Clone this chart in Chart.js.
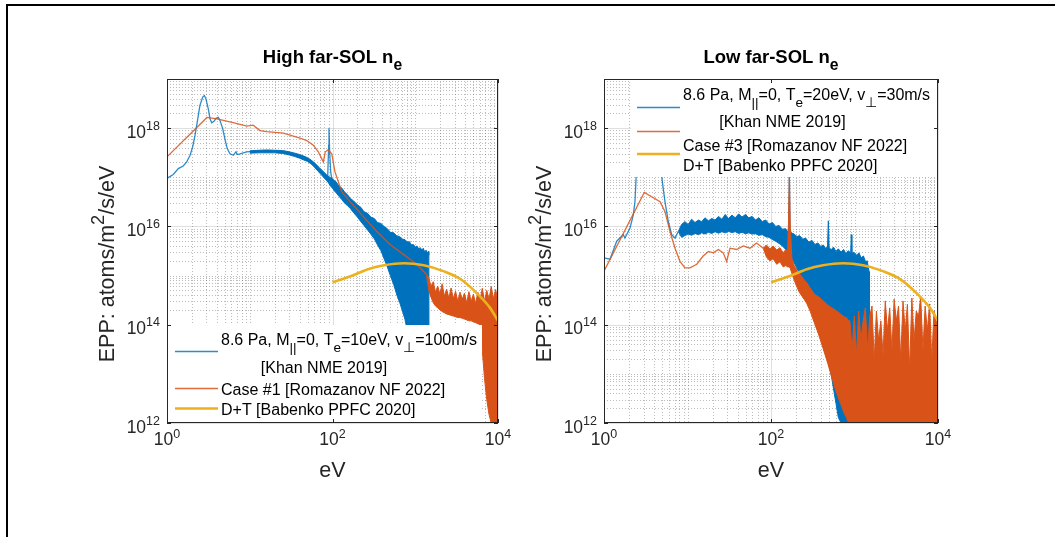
<!DOCTYPE html>
<html><head><meta charset="utf-8">
<script src="https://cdn.jsdelivr.net/npm/chart.js@4.4.1/dist/chart.umd.min.js"></script>
<style>
html,body{margin:0;padding:0;background:#fff}
#wrap{position:relative;width:1055px;height:537px;overflow:hidden;background:#fff}
#frame{position:absolute;left:6px;top:4px;width:1200px;height:700px;border-left:2px solid #000;border-top:2px solid #000;box-sizing:border-box}
canvas{position:absolute;left:0;top:0}
</style></head><body>
<div id="wrap"><div id="frame"></div>
<canvas id="cHigh" width="1055" height="537"></canvas>
<canvas id="cLow" width="1055" height="537"></canvas>
</div>
<script>
// ---------------- tick labels ----------------
const xTickExps = [0, 2, 4];
const yTickExps = [12, 14, 16, 18];

// ---------------- D+T [Babenko PPFC 2020] (both panels) ----------------
const babenkoE = [100, 169, 268, 420, 728, 1265, 2190, 3510, 5610, 8020, 10000];
const babenkoV = [7.3e14, 9.8e14, 1.35e15, 1.62e15, 1.78e15, 1.62e15, 1.23e15, 8.5e14, 4.3e14, 2.2e14, 1.2e14];

// ---------------- High far-SOL : Khan (blue) ----------------
const khanHighE = [1.0, 1.19, 1.37, 1.57, 1.73, 1.90, 2.04, 2.18, 2.32, 2.5, 2.7, 2.83, 2.96, 3.16, 3.31, 3.47, 3.7, 3.91, 4.17, 4.37, 4.71, 5.02, 5.36, 5.77, 6.33, 6.82, 7.07, 7.62, 9.18, 12.1, 16, 21.2, 27.9, 36.9, 48.8, 58.6, 70.6, 81.1, 87.4, 89.9, 90.7, 92.4, 95, 100, 112];
const khanHighV = [9.5e16, 1.14e17, 1.5e17, 1.7e17, 2.05e17, 2.8e17, 4.1e17, 7.1e17, 1.32e18, 2.9e18, 4.3e18, 4.6e18, 3.9e18, 2.45e18, 1.55e18, 1.28e18, 1.38e18, 1.58e18, 1.66e18, 1.43e18, 9.8e17, 5.9e17, 3.8e17, 3.0e17, 2.8e17, 3.3e17, 2.9e17, 3.0e17, 3.3e17, 3.4e17, 3.4e17, 3.4e17, 3.2e17, 2.8e17, 2.4e17, 1.9e17, 1.4e17, 1.1e17, 9.5e16, 4.5e17, 1.0e18, 3.3e17, 1.3e17, 7.5e16, 5.9e16];
const khanHighBandE = [10, 13, 16, 20, 25, 30, 35, 40, 45, 50, 55, 60, 65, 70, 75, 80, 85, 88, 95, 100, 105, 110, 120, 130, 140, 150, 165, 180, 200, 220, 240, 265, 290, 320, 350, 385, 420, 460, 500, 550, 600, 650, 700, 750, 800, 850, 900, 950, 1000, 1050, 1100, 1150, 1200, 1250, 1300, 1350, 1400, 1440, 1460, 1470];
const khanHighBandHi = [3.45e17, 3.55e17, 3.6e17, 3.55e17, 3.5e17, 3.3e17, 3.1e17, 2.9e17, 2.7e17, 2.5e17, 2.25e17, 2.0e17, 1.75e17, 1.55e17, 1.38e17, 1.24e17, 1.12e17, 1.06e17, 9.8e16, 9.3e16, 8.6e16, 8.2e16, 6.6e16, 6.0e16, 5.0e16, 4.5e16, 3.7e16, 3.3e16, 2.75e16, 2.45e16, 2.0e16, 1.85e16, 1.55e16, 1.45e16, 1.2e16, 1.15e16, 1.0e16, 9.0e15, 7.6e15, 7.4e15, 6.4e15, 6.2e15, 5.5e15, 5.4e15, 4.8e15, 4.9e15, 4.2e15, 4.3e15, 3.8e15, 4.0e15, 3.5e15, 3.7e15, 3.3e15, 3.6e15, 3.0e15, 3.3e15, 2.9e15, 3.1e15, 2.6e15, 1e12];
const khanHighBandLo = [3.1e17, 3.15e17, 3.15e17, 3.15e17, 3.05e17, 2.85e17, 2.65e17, 2.45e17, 2.25e17, 2.1e17, 1.88e17, 1.63e17, 1.4e17, 1.22e17, 1.08e17, 9.6e16, 8.5e16, 8.0e16, 6.6e16, 6.0e16, 5.3e16, 4.9e16, 4.1e16, 3.5e16, 3.0e16, 2.7e16, 2.3e16, 1.9e16, 1.55e16, 1.25e16, 1.05e16, 8.5e15, 7.0e15, 5.6e15, 4.2e15, 3.2e15, 2.2e15, 1.5e15, 1.0e15, 6.5e14, 4.0e14, 2.8e14, 1.9e14, 1.3e14, 7.6e13, 5e13, 3e13, 1.5e13, 7e12, 4e12, 2e12, 1e12, 1e12, 1e12, 1e12, 1e12, 1e12, 1e12, 1e12, 1e12];

// ---------------- High far-SOL : Romazanov case #1 (orange) ----------------
const romHighE = [1, 3.04, 4.0, 6.3, 9.2, 11, 13.3, 16, 25.5, 40.5, 48.8, 58.6, 67.4, 74, 77.5, 81.8, 88.8, 98, 107, 129, 163, 235, 343, 495, 719, 1040, 1370];
const romHighV = [2.6e17, 1.65e18, 1.55e18, 1.3e18, 1.1e18, 1.15e18, 8.9e17, 8.5e17, 7.9e17, 6.3e17, 5.6e17, 4.5e17, 3.3e17, 2.4e17, 2.05e17, 3.3e17, 3.6e17, 3.0e17, 1.3e17, 5.1e16, 3.2e16, 1.6e16, 7.9e15, 4.3e15, 2.7e15, 1.7e15, 1.05e15];
const romHighBandE = [1370, 1458, 1551, 1650, 1756, 1868, 1988, 2115, 2250, 2394, 2548, 2711, 2884, 3069, 3265, 3474, 3697, 3933, 4185, 4453, 4738, 5041, 5364, 5707, 6072, 6461, 6874, 7314, 7782, 8280, 8810, 9374, 10000];
const romHighBandHi = [1.05e15, 9.0e14, 6.0e14, 7.5e14, 4.6e14, 6.1e14, 4.2e14, 6.8e14, 3.8e14, 5.3e14, 3.5e14, 5.6e14, 3.4e14, 4.8e14, 3.0e14, 4.6e14, 3.3e14, 4.4e14, 2.8e14, 4.7e14, 3.0e14, 4.2e14, 2.7e14, 4.6e14, 3.2e14, 5.5e14, 3.0e14, 5.0e14, 3.3e14, 6.0e14, 3.4e14, 5.2e14, 3.0e14];
const romHighBandLo = [1.0e15, 5.0e14, 3.6e14, 2.8e14, 2.4e14, 2.2e14, 2.0e14, 1.85e14, 1.75e14, 1.65e14, 1.6e14, 1.55e14, 1.5e14, 1.45e14, 1.4e14, 1.4e14, 1.35e14, 1.3e14, 1.25e14, 1.2e14, 1.2e14, 1.15e14, 1.1e14, 1.05e14, 1.0e14, 3e13, 8e12, 3e12, 1.5e12, 1e12, 1e12, 1e12, 1e12];

// ---------------- Low far-SOL : Khan (blue) ----------------
const khanLowE = [1.0, 1.18, 1.42, 1.70, 1.78, 2.05, 2.24, 2.35, 2.42, 2.6, 2.85, 3.1, 3.4, 3.8, 4.3, 4.8, 4.95, 5.37, 5.89, 6.47, 7.08, 7.77];
const khanLowV = [2.3e15, 2.15e15, 5.0e15, 6.8e15, 5.8e15, 9.3e15, 1.7e16, 3.2e16, 9.3e16, 6e17, 4e18, 3e18, 1.3e18, 1.4e18, 8e17, 2.5e17, 9.3e16, 3.2e16, 1.26e16, 6.8e15, 5.8e15, 7.9e15];
const khanLowBandE = [7.77, 8.5, 9.3, 10.2, 11.2, 12.3, 13.5, 14.8, 16.2, 17.8, 19.5, 21.4, 23.5, 25.8, 28.3, 31, 34, 37.3, 41, 45, 49.4, 54.2, 59.5, 65.3, 71.7, 78.7, 86.4, 94.8, 104, 114, 125, 137, 150, 158, 163, 166, 169, 175, 190, 203, 220, 240, 260, 283, 310, 335, 365, 395, 423, 450, 475, 486, 497, 530, 560, 600, 640, 690, 740, 790, 840, 900, 915, 930, 980, 1062, 1130, 1200, 1280, 1360, 1420, 1463, 1500, 1510];
const khanLowBandHi = [7.9e15, 1.1e16, 1.25e16, 1.1e16, 1.4e16, 1.2e16, 1.35e16, 1.25e16, 1.5e16, 1.3e16, 1.45e16, 1.35e16, 1.6e16, 1.4e16, 1.75e16, 1.45e16, 1.7e16, 1.5e16, 1.8e16, 1.55e16, 1.75e16, 1.5e16, 1.6e16, 1.35e16, 1.5e16, 1.25e16, 1.35e16, 1.12e16, 1.2e16, 1.0e16, 1.05e16, 8.8e15, 9.0e15, 7.8e15, 8.5e15, 2.5e17, 9.0e15, 7.4e15, 7.0e15, 6.2e15, 6.5e15, 5.5e15, 5.8e15, 4.8e15, 5.2e15, 4.3e15, 4.6e15, 3.9e15, 4.2e15, 3.6e15, 3.8e15, 1.3e16, 3.6e15, 3.4e15, 3.8e15, 3.1e15, 3.5e15, 3.0e15, 3.4e15, 2.8e15, 3.2e15, 2.9e15, 6.8e15, 2.8e15, 3.0e15, 2.6e15, 2.9e15, 2.3e15, 2.5e15, 1.9e15, 2.0e15, 1.44e15, 1.2e15, 1e12];
const khanLowBandLo = [7.9e15, 6.0e15, 6.5e15, 7.0e15, 6.6e15, 7.2e15, 6.8e15, 7.4e15, 7.0e15, 7.6e15, 7.2e15, 7.8e15, 7.3e15, 7.8e15, 7.4e15, 7.9e15, 7.5e15, 7.8e15, 7.2e15, 7.6e15, 7.1e15, 7.4e15, 7.0e15, 7.1e15, 6.6e15, 6.8e15, 6.2e15, 6.0e15, 5.4e15, 5.0e15, 4.5e15, 4.0e15, 3.4e15, 3.0e15, 2.9e15, 2.8e15, 2.6e15, 2.4e15, 1.8e15, 1.44e15, 1.1e15, 8.0e14, 6.0e14, 4.5e14, 3.0e14, 2.1e14, 1.4e14, 9.5e13, 6.0e13, 3.5e13, 2.2e13, 1.8e13, 1.5e13, 9e12, 5e12, 2.5e12, 1.3e12, 1e12, 1e12, 1e12, 1e12, 1e12, 1e12, 1e12, 1e12, 1e12, 1e12, 1e12, 1e12, 1e12, 1e12, 1e12, 1e12, 1e12];

// ---------------- Low far-SOL : Romazanov case #3 (orange) ----------------
const romLowE = [1, 3.04, 4.69, 5.38, 6.17, 7.09, 8.13, 9.3, 10.7, 12.9, 15.4, 17.8, 20.4, 23.4, 26.8, 29.4, 32.3, 38.8, 46.6, 56, 67, 81];
const romLowV = [1.23e15, 4.9e16, 3.2e16, 2.0e16, 7.9e15, 3.6e15, 1.95e15, 1.44e15, 1.44e15, 1.7e15, 2.5e15, 3.1e15, 2.9e15, 3.4e15, 2.9e15, 1.95e15, 3.6e15, 3.4e15, 4.0e15, 3.6e15, 4.6e15, 3.6e15];
const romLowBandE = [81, 88, 97, 106, 117, 128, 140, 150, 158, 162, 166, 170, 178, 190, 203, 218, 235, 252, 268, 294, 330, 370, 423, 480, 540, 612, 680, 750, 800, 850, 880, 935, 994, 1057, 1123, 1194, 1269, 1349, 1434, 1524, 1620, 1722, 1830, 1945, 2068, 2198, 2336, 2483, 2640, 2806, 2983, 3170, 3370, 3582, 3808, 4048, 4303, 4574, 4862, 5168, 5494, 5840, 6207, 6598, 7014, 7455, 7925, 8424, 8955, 9519, 10000];
const romLowBandHi = [3.6e15, 4.2e15, 3.5e15, 4.0e15, 3.3e15, 3.7e15, 2.9e15, 3.4e15, 3.0e15, 1.26e16, 1.2e17, 1.0e16, 2.2e15, 1.6e15, 1.3e15, 1.1e15, 9.5e14, 8.0e14, 7.2e14, 5.6e14, 4.2e14, 3.7e14, 3.05e14, 2.5e14, 2.2e14, 1.9e14, 1.66e14, 1.45e14, 1.4e14, 1.2e14, 1.2e14, 3e13, 1.5e14, 2.4e13, 1.9e14, 4.8e13, 1.2e14, 2.2e14, 3e13, 1.5e14, 2.4e14, 1.9e13, 1.9e14, 4.8e13, 1.2e14, 2.4e13, 3.05e14, 7.6e13, 2.2e14, 3e13, 3.3e14, 1.2e14, 2.4e14, 1.9e13, 3.05e14, 7.6e13, 2.6e14, 1.2e13, 3.5e14, 4.8e13, 1.9e14, 1.5e14, 3.7e14, 3e13, 2.4e14, 7.6e13, 2.65e14, 1.9e13, 1.9e14, 1.2e14, 9.5e13];
const romLowBandLo = [3.6e15, 2.4e15, 2.0e15, 2.2e15, 1.7e15, 1.9e15, 1.5e15, 1.6e15, 1.5e15, 1.5e15, 1.5e15, 1.4e15, 1.1e15, 8.0e14, 6.0e14, 4.6e14, 3.8e14, 3.2e14, 2.7e14, 1.9e14, 1.1e14, 6.5e13, 3.2e13, 1.6e13, 8e12, 4e12, 2.5e12, 1.6e12, 1.3e12, 1e12, 1e12, 1e12, 1e12, 1e12, 1e12, 1e12, 1e12, 1e12, 1e12, 1e12, 1e12, 1e12, 1e12, 1e12, 1e12, 1e12, 1e12, 1e12, 1e12, 1e12, 1e12, 1e12, 1e12, 1e12, 1e12, 1e12, 1e12, 1e12, 1e12, 1e12, 1e12, 1e12, 1e12, 1e12, 1e12, 1e12, 1e12, 1e12, 1e12, 1e12, 1e12];

// ---------------- style ----------------
const BLUE = '#0072BD', ORANGE = '#D95319', YELLOW = '#EDB120';
const BLUE_THIN = 'rgba(0,114,189,0.82)', ORANGE_THIN = 'rgba(217,83,25,0.85)';
const FONT = '"Liberation Sans", Arial, Helvetica, sans-serif';
const TICK = 17.5, SUPS = 12.5, LEG = 16, TITLE = 18.5, LABEL = 21.5;
function font(sz, bold) { return (bold ? 'bold ' : '') + sz + 'px ' + FONT; }

function pts(E, V) { return E.map((e, i) => ({x: e, y: V[i]})); }
function line(E, V, color, width, order, extra) {
  return Object.assign({data: pts(E, V), borderColor: color, borderWidth: width, pointRadius: 0, fill: false, tension: 0, order}, extra || {});
}
function band(E, U, L, color, order) {
  return [
    {data: pts(E, U), borderColor: color, backgroundColor: color, borderWidth: 1, pointRadius: 0, fill: '+1', tension: 0, order},
    {data: pts(E, L), borderColor: color, borderWidth: 1, pointRadius: 0, fill: false, tension: 0, order}
  ];
}

// rich text: segs = [[text, mode]] mode 0 normal, 1 sub, 2 sup
function segFont(size, mode, bold) { return font(mode ? size * 0.85 : size, bold); }
function segsWidth(ctx, segs, size, bold) {
  let w = 0;
  for (const [t, m] of segs) { ctx.font = segFont(size, m, bold); w += ctx.measureText(t).width; }
  return w;
}
function drawSegs(ctx, segs, x, y, size, bold, subDy) {
  let cx = x;
  for (const [t, m] of segs) {
    ctx.font = segFont(size, m, bold);
    const dy = m === 1 ? subDy : (m === 2 ? -size * 0.45 : 0);
    ctx.fillText(t, cx, y + dy);
    cx += ctx.measureText(t).width;
  }
}

function makePlugin(spec) {
  return {
    id: 'matlab' + spec.id,
    beforeDatasetsDraw(chart) {
      const {ctx, chartArea: a, scales: {x, y}} = chart;
      ctx.save();
      ctx.lineWidth = 1;
      ctx.strokeStyle = 'rgba(38,38,38,0.30)';
      ctx.setLineDash([1, 2]);
      for (let e = 0; e < 4; e++) for (let m = 1; m <= 9; m++) {
        if (m === 1 && e % 2 === 0) continue;
        const px = Math.round(x.getPixelForValue(m * Math.pow(10, e))) + 0.5;
        ctx.beginPath(); ctx.moveTo(px, a.top); ctx.lineTo(px, a.bottom); ctx.stroke();
      }
      for (let e = 12; e < 19; e++) for (let m = 1; m <= 9; m++) {
        if (m === 1 && e % 2 === 0) continue;
        const py = Math.round(y.getPixelForValue(m * Math.pow(10, e))) + 0.5;
        ctx.beginPath(); ctx.moveTo(a.left, py); ctx.lineTo(a.right, py); ctx.stroke();
      }
      ctx.setLineDash([]);
      ctx.strokeStyle = 'rgba(38,38,38,0.15)';
      for (const e of xTickExps) {
        const px = Math.round(x.getPixelForValue(Math.pow(10, e))) + 0.5;
        ctx.beginPath(); ctx.moveTo(px, a.top); ctx.lineTo(px, a.bottom); ctx.stroke();
      }
      for (const e of yTickExps) {
        const py = Math.round(y.getPixelForValue(Math.pow(10, e))) + 0.5;
        ctx.beginPath(); ctx.moveTo(a.left, py); ctx.lineTo(a.right, py); ctx.stroke();
      }
      ctx.restore();
    },
    afterDatasetsDraw(chart) {
      const {ctx} = chart;
      const L = spec.legend;
      ctx.save();
      ctx.fillStyle = '#fff';
      ctx.fillRect(L.box[0], L.box[1], L.box[2] - L.box[0], L.box[3] - L.box[1]);
      ctx.fillStyle = '#000';
      ctx.textBaseline = 'alphabetic';
      for (const it of L.items) {
        if (it.line) {
          ctx.strokeStyle = it.line; ctx.lineWidth = it.lw;
          ctx.beginPath(); ctx.moveTo(L.lx0, it.ly); ctx.lineTo(L.lx1, it.ly); ctx.stroke();
        }
        if (it.segs) {
          let tx = it.tx;
          if (it.center) tx = it.tx - segsWidth(ctx, it.segs, LEG, false) / 2;
          drawSegs(ctx, it.segs, tx, it.ty, LEG, false, 7);
        }
      }
      ctx.restore();
    },
    afterDraw(chart) {
      const {ctx, chartArea: a, scales: {x, y}} = chart;
      ctx.save();
      ctx.strokeStyle = '#262626'; ctx.lineWidth = 1;
      ctx.strokeRect(Math.round(a.left) + 0.5, Math.round(a.top) + 0.5, Math.round(a.right - a.left) - 1, Math.round(a.bottom - a.top) - 1);
      ctx.beginPath();
      for (const e of xTickExps) {
        const px = Math.round(x.getPixelForValue(Math.pow(10, e))) + 0.5;
        ctx.moveTo(px, a.bottom); ctx.lineTo(px, a.bottom - 4);
        ctx.moveTo(px, a.top); ctx.lineTo(px, a.top + 4);
      }
      for (const e of yTickExps) {
        const py = Math.round(y.getPixelForValue(Math.pow(10, e))) + 0.5;
        ctx.moveTo(a.left, py); ctx.lineTo(a.left + 4, py);
        ctx.moveTo(a.right, py); ctx.lineTo(a.right - 4, py);
      }
      ctx.stroke();
      ctx.fillStyle = '#262626';
      ctx.textBaseline = 'alphabetic';
      for (const e of xTickExps) {
        const px = x.getPixelForValue(Math.pow(10, e));
        ctx.font = font(TICK); const w1 = ctx.measureText('10').width;
        ctx.font = font(SUPS); const w2 = ctx.measureText(String(e)).width;
        const x0 = px - (w1 + w2) / 2;
        ctx.font = font(TICK); ctx.fillText('10', x0, a.bottom + 22);
        ctx.font = font(SUPS); ctx.fillText(String(e), x0 + w1, a.bottom + 15);
      }
      for (const e of yTickExps) {
        const py = y.getPixelForValue(Math.pow(10, e));
        ctx.font = font(TICK); const w1 = ctx.measureText('10').width;
        ctx.font = font(SUPS); const w2 = ctx.measureText(String(e)).width;
        const x0 = a.left - 7 - w1 - w2;
        ctx.font = font(TICK); ctx.fillText('10', x0, py + 9.5);
        ctx.font = font(SUPS); ctx.fillText(String(e), x0 + w1, py + 1.5);
      }
      ctx.font = font(LABEL); ctx.textAlign = 'center';
      ctx.fillText('eV', (a.left + a.right) / 2, a.bottom + 54);
      ctx.save();
      ctx.translate(a.left - 53, (a.top + a.bottom) / 2 + 13);
      ctx.rotate(-Math.PI / 2);
      ctx.textAlign = 'left';
      const ySegs = [['EPP: atoms/m', 0], ['2', 2], ['/s/eV', 0]];
      const yw = segsWidth(ctx, ySegs, LABEL, false);
      drawSegs(ctx, ySegs, -yw / 2, 0, LABEL, false, 0);
      ctx.restore();
      ctx.fillStyle = '#000';
      ctx.textAlign = 'left';
      const tw = segsWidth(ctx, spec.title, TITLE, true);
      drawSegs(ctx, spec.title, (a.left + a.right) / 2 - tw / 2, a.top - 16, TITLE, true, 7);
      ctx.restore();
    }
  };
}

function makeChart(canvasId, area, datasets, spec) {
  return new Chart(document.getElementById(canvasId), {
    type: 'line',
    data: {datasets},
    options: {
      responsive: false, animation: false, devicePixelRatio: 1, events: [],
      layout: {padding: {left: 0, top: area.top, right: 1055 - area.right, bottom: 0}},
      plugins: {legend: {display: false}, tooltip: {enabled: false}},
      scales: {
        x: {type: 'logarithmic', min: 1, max: 1e4, ticks: {display: false}, grid: {display: false}, border: {display: false},
            afterFit(s) { s.height = 537 - area.bottom; }},
        y: {type: 'logarithmic', min: 1e12, max: 1e19, ticks: {display: false}, grid: {display: false}, border: {display: false},
            afterFit(s) { s.width = area.left; }}
      }
    },
    plugins: [makePlugin(spec)]
  });
}

makeChart('cHigh', {left: 167, right: 498, top: 79, bottom: 423}, [
  line(babenkoE, babenkoV, YELLOW, 2.6, 0, {cubicInterpolationMode: 'monotone'}),
  line(romHighE, romHighV, ORANGE_THIN, 1.3, 1),
  ...band(romHighBandE, romHighBandHi, romHighBandLo, ORANGE, 1),
  line(khanHighE, khanHighV, BLUE_THIN, 1.3, 2),
  ...band(khanHighBandE, khanHighBandHi, khanHighBandLo, BLUE, 2)
], {
  id: 'High',
  title: [['High far-SOL n', 0], ['e', 1]],
  legend: {
    box: [168, 325, 482, 422], lx0: 175, lx1: 218,
    items: [
      {line: BLUE_THIN, lw: 1.3, ly: 351.5, tx: 221, ty: 345, segs: [['8.6 Pa, M', 0], ['||', 1], ['=0, T', 0], ['e', 1], ['=10eV, v', 0], ['\u22A5', 1], ['=100m/s', 0]]},
      {tx: 324, ty: 373, center: true, segs: [['[Khan NME 2019]', 0]]},
      {line: ORANGE_THIN, lw: 1.3, ly: 388.5, tx: 221, ty: 395, segs: [['Case #1 [Romazanov NF 2022]', 0]]},
      {line: YELLOW, lw: 2.6, ly: 408.5, tx: 221, ty: 415, segs: [['D+T [Babenko PPFC 2020]', 0]]}
    ]
  }
});

makeChart('cLow', {left: 604, right: 938, top: 79, bottom: 423}, [
  line(babenkoE, babenkoV, YELLOW, 2.6, 0, {cubicInterpolationMode: 'monotone'}),
  line(romLowE, romLowV, ORANGE_THIN, 1.3, 1),
  ...band(romLowBandE, romLowBandHi, romLowBandLo, ORANGE, 1),
  line(khanLowE, khanLowV, BLUE_THIN, 1.3, 2),
  ...band(khanLowBandE, khanLowBandHi, khanLowBandLo, BLUE, 2)
], {
  id: 'Low',
  title: [['Low far-SOL n', 0], ['e', 1]],
  legend: {
    box: [631, 80, 937, 177], lx0: 637, lx1: 680,
    items: [
      {line: BLUE_THIN, lw: 1.3, ly: 107.5, tx: 683, ty: 100, segs: [['8.6 Pa, M', 0], ['||', 1], ['=0, T', 0], ['e', 1], ['=20eV, v', 0], ['\u22A5', 1], ['=30m/s', 0]]},
      {tx: 782.5, ty: 127, center: true, segs: [['[Khan NME 2019]', 0]]},
      {line: ORANGE_THIN, lw: 1.3, ly: 131.5, tx: 683, ty: 151, segs: [['Case #3 [Romazanov NF 2022]', 0]]},
      {line: YELLOW, lw: 2.6, ly: 154, tx: 683, ty: 171, segs: [['D+T [Babenko PPFC 2020]', 0]]}
    ]
  }
});
</script></body></html>
